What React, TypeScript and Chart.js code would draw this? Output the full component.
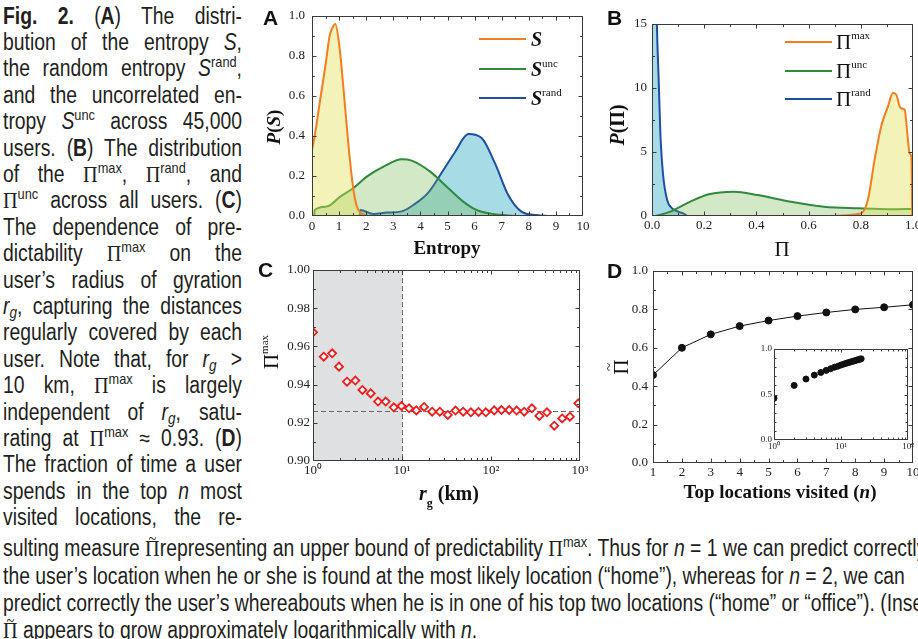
import React, { useEffect, useRef } from "react";
import { Chart, registerables } from "chart.js";

Chart.register(...registerables);

/* ======================= DATA ======================= */
// Panel A: P(S)
const aS_x = [0, 0.1, 0.3, 0.5, 0.65, 0.75, 0.86, 1.0, 1.1, 1.25, 1.4, 1.53, 1.65, 1.8, 2.0, 2.2, 3.0];
const aS_y = [0.33, 0.4, 0.58, 0.756, 0.9, 0.94, 0.96, 0.86, 0.73, 0.5, 0.28, 0.13, 0.05, 0.015, 0.003, 0, 0];
const aUnc_x = [0.08, 0.1, 0.55, 1.04, 1.53, 2.02, 2.64, 3.31, 3.68, 4.36, 5.03, 5.58, 6.07, 6.69, 7.5];
const aUnc_y = [0, 0.03, 0.047, 0.097, 0.14, 0.197, 0.247, 0.284, 0.277, 0.222, 0.139, 0.072, 0.03, 0.01, 0];
const aRand_x = [1.76, 1.78, 2.27, 2.76, 3.31, 3.74, 4.29, 4.85, 5.28, 5.77, 6.26, 6.75, 7.24, 7.73, 8.28, 8.77];
const aRand_y = [0, 0.03, 0.01, 0.017, 0.023, 0.055, 0.117, 0.23, 0.32, 0.41, 0.39, 0.264, 0.105, 0.022, 0.005, 0];
const aSymbols = ["S", "S", "S"];
const aSups = ["", "unc", "rand"];
const aXTicks = [0, 1, 2, 3, 4, 5, 6, 7, 8, 9, 10];
const aYTicks = [0, 0.2, 0.4, 0.6, 0.8, 1.0];

// Panel B: P(Π)
const bMax_x = [0.66, 0.8, 0.827, 0.853, 0.878, 0.904, 0.923, 0.936, 0.949, 0.955, 0.968, 0.978, 0.987, 0.994, 0.997];
const bMax_y = [0, 0.2, 1.25, 4.4, 7.0, 8.56, 9.6, 9.47, 8.56, 8.4, 8.3, 6.5, 4.9, 4.6, 0];
const bUnc_x = [0.013, 0.07, 0.147, 0.218, 0.314, 0.404, 0.532, 0.66, 0.79, 0.917, 0.994];
const bUnc_y = [0, 0.34, 1.12, 1.7, 1.9, 1.64, 1.12, 0.73, 0.6, 0.52, 0.55];
const bRand_x = [0, 0.018, 0.019, 0.026, 0.032, 0.042, 0.058, 0.077, 0.1, 0.12, 0.135];
const bRand_y = [16, 16, 14.8, 10.4, 6.5, 3.3, 1.25, 0.6, 0.34, 0.2, 0];
const bSups = ["max", "unc", "rand"];
const bXTicks = [0, 0.2, 0.4, 0.6, 0.8, 1.0];
const bYTicks = [0, 5, 10, 15];

// Panel C: Π^max vs r_g
const cRg = [1, 1.32, 1.64, 1.96, 2.41, 2.99, 3.59, 4.45, 5.38, 6.56, 8.08, 9.86, 12.0, 14.5, 17.7, 21.8, 26.6, 32.7, 39.9, 48.7, 59.4, 72.4, 87.5, 108.7, 131, 160, 194, 236, 288, 349, 425, 514, 631, 771, 957];
const cPi = [0.9674, 0.9546, 0.9564, 0.9494, 0.9415, 0.9421, 0.9372, 0.9354, 0.9311, 0.9311, 0.9281, 0.9288, 0.9276, 0.9265, 0.9283, 0.9258, 0.9258, 0.9241, 0.9264, 0.9258, 0.9255, 0.9257, 0.9255, 0.9265, 0.9267, 0.9267, 0.9264, 0.9258, 0.9276, 0.9236, 0.9255, 0.9185, 0.9223, 0.9232, 0.9302];
const cSaturation = 0.926;
const cShadeMax = 10;
const cXTicks = [1, 10, 100, 1000];
const cYTicks = [0.9, 0.92, 0.94, 0.96, 0.98, 1.0];

// Panel D: Π~ vs n
const dN = [1, 2, 3, 4, 5, 6, 7, 8, 9, 10];
const dPi = [0.458, 0.6, 0.67, 0.713, 0.742, 0.765, 0.784, 0.8, 0.811, 0.824];
const insetN = [1, 2, 3, 4, 5, 6, 7, 8, 9, 10, 11, 12, 13, 14, 15, 16, 17, 18, 19, 20];
const insetPi = [0.458, 0.6, 0.67, 0.713, 0.742, 0.765, 0.784, 0.8, 0.811, 0.824, 0.834, 0.843, 0.851, 0.858, 0.865, 0.871, 0.877, 0.882, 0.887, 0.892];
const dXTicks = [1, 2, 3, 4, 5, 6, 7, 8, 9, 10];
const dYTicks = [0, 0.2, 0.4, 0.6, 0.8, 1.0];
const insetXTicks = [1, 10, 100];
const insetYTicks = [0, 0.5, 1.0];

/* ======================= STYLE / LAYOUT ======================= */
const SERIF_FAM = '"Liberation Serif", "Times New Roman", serif';
const serif = (size: number, style = "") => `${style} ${size}px ${SERIF_FAM}`.trim();
const LETTER_FONT = 'bold 21px "Liberation Sans", Arial, sans-serif';
const SUPD: any = { 0: "\u2070", 1: "\u00B9", 2: "\u00B2", 3: "\u00B3" };
const pow10Label = (v: number) => "10" + SUPD[Math.round(Math.log10(v))];

const ORANGE = "#f47d20";
const GREEN = "#2f8a3c";
const BLUE = "#1e4ea5";
const FILL_Y = "rgba(225,225,80,0.4)";
const FILL_G = "rgba(110,180,70,0.3)";
const FILL_B = "rgba(80,185,205,0.5)";

type Box = { cl: number; ct: number; cw: number; ch: number; pl: number; pt: number; pr: number; pb: number };
const A_BOX: Box = { cl: 250, ct: 0, cw: 340, ch: 262, pl: 312, pt: 16, pr: 583, pb: 216 };
const B_BOX: Box = { cl: 590, ct: 0, cw: 328, ch: 262, pl: 652, pt: 24, pr: 913, pb: 216 };
const C_BOX: Box = { cl: 250, ct: 258, cw: 340, ch: 262, pl: 313, pt: 270, pr: 580, pb: 461 };
const D_BOX: Box = { cl: 590, ct: 258, cw: 328, ch: 262, pl: 653, pt: 271, pr: 913, pb: 463 };
const I_BOX: Box = { cl: 748, ct: 340, cw: 170, ch: 118, pl: 774, pt: 349, pr: 908, pb: 440 };

/* ======================= HELPERS ======================= */
const pts = (xs: number[], ys: number[]) => xs.map((x, i) => ({ x, y: ys[i] }));
const range = (a: number, b: number, s: number) => {
  const out: number[] = [];
  for (let v = a; v <= b + 1e-9; v += s) out.push(+v.toFixed(6));
  return out;
};
const logMinor = (a: number, b: number) => {
  const out: number[] = [];
  for (let d = a; d < b; d *= 10) for (let k = 2; k <= 9; k++) out.push(k * d);
  return out;
};

type Run = { t: string; f: string; dy?: number };
function drawRuns(ctx: any, runs: Run[], x: number, y: number, align = "center") {
  let w = 0;
  for (const r of runs) {
    ctx.font = r.f;
    w += ctx.measureText(r.t).width;
  }
  let cx = align === "center" ? x - w / 2 : x;
  ctx.textAlign = "left";
  ctx.textBaseline = "alphabetic";
  for (const r of runs) {
    ctx.font = r.f;
    ctx.fillText(r.t, cx, y + (r.dy || 0));
    cx += ctx.measureText(r.t).width;
  }
}
function drawRotRuns(ctx: any, runs: Run[], cx: number, cy: number, size: number) {
  ctx.save();
  ctx.translate(cx, cy);
  ctx.rotate(-Math.PI / 2);
  drawRuns(ctx, runs, 0, size * 0.35);
  ctx.restore();
}

function axis(type: string, min: number, max: number, values: number[], fmt: (v: number) => string, fontSize: number, pad: number, size: number, isX: boolean) {
  return {
    type,
    min,
    max,
    grid: { display: false, drawTicks: false },
    border: { display: false },
    ticks: {
      autoSkip: false,
      maxRotation: 0,
      minRotation: 0,
      padding: pad,
      color: "#222",
      font: { family: SERIF_FAM, size: fontSize },
      callback: (v: any) => fmt(Number(v)),
    },
    afterBuildTicks: (s: any) => {
      s.ticks = values.map((v) => ({ value: v }));
    },
    afterFit: (s: any) => {
      if (isX) s.height = size;
      else s.width = size;
      s.paddingLeft = 0;
      s.paddingRight = 0;
      s.paddingTop = 0;
      s.paddingBottom = 0;
    },
  };
}

function framePlugin(xMaj: number[], xMin: number[], yMaj: number[], yMin: number[], majLen = 4, minLen = 2.5) {
  return {
    id: "frame",
    afterDatasetsDraw(chart: any) {
      const { ctx, chartArea: a, scales } = chart;
      const L = Math.round(a.left) + 0.5;
      const R = Math.round(a.right) - 0.5;
      const T = Math.round(a.top) + 0.5;
      const B = Math.round(a.bottom) - 0.5;
      ctx.save();
      ctx.strokeStyle = "#3a3a3a";
      ctx.lineWidth = 1;
      ctx.beginPath();
      const xt = (vals: number[], len: number) =>
        vals.forEach((v) => {
          const px = Math.round(scales.x.getPixelForValue(v)) + 0.5;
          if (px < L - 0.1 || px > R + 0.1) return;
          ctx.moveTo(px, B);
          ctx.lineTo(px, B - len);
          ctx.moveTo(px, T);
          ctx.lineTo(px, T + len);
        });
      const yt = (vals: number[], len: number) =>
        vals.forEach((v) => {
          const py = Math.round(scales.y.getPixelForValue(v)) + 0.5;
          if (py < T - 0.1 || py > B + 0.1) return;
          ctx.moveTo(L, py);
          ctx.lineTo(L + len, py);
          ctx.moveTo(R, py);
          ctx.lineTo(R - len, py);
        });
      xt(xMaj, majLen);
      xt(xMin, minLen);
      yt(yMaj, majLen);
      yt(yMin, minLen);
      ctx.stroke();
      ctx.strokeRect(L, T, R - L, B - T);
      ctx.restore();
    },
  };
}

function buildConfig(box: Box, xs: any, ys: any, datasets: any[], plugins: any[]) {
  return {
    type: "line",
    data: { datasets },
    options: {
      animation: false,
      responsive: false,
      maintainAspectRatio: false,
      events: [],
      layout: { padding: { left: 0, top: box.pt - box.ct, right: box.cl + box.cw - box.pr, bottom: 0 } },
      plugins: { legend: { display: false }, tooltip: { enabled: false } },
      scales: { x: xs, y: ys },
    },
    plugins,
  };
}

const area = (data: any[], color: string, fillColor: string) => ({
  data,
  borderColor: color,
  backgroundColor: fillColor,
  fill: "origin",
  borderWidth: 2,
  pointRadius: 0,
  cubicInterpolationMode: "monotone",
});

/* ======================= CHART CONFIGS ======================= */
function configA() {
  const b = A_BOX;
  const colors = [ORANGE, GREEN, BLUE];
  const decor = {
    id: "decorA",
    afterDraw(chart: any) {
      const ctx = chart.ctx;
      const ox = b.cl, oy = b.ct;
      ctx.save();
      ctx.fillStyle = "#111";
      drawRuns(ctx, [{ t: "A", f: LETTER_FONT }], 263 - ox, 25 - oy, "left");
      drawRuns(ctx, [{ t: "Entropy", f: serif(19, "bold") }], 447 - ox, 254 - oy);
      drawRotRuns(ctx, [
        { t: "P", f: serif(19, "bold italic") },
        { t: "(", f: serif(19, "bold") },
        { t: "S", f: serif(19, "bold italic") },
        { t: ")", f: serif(19, "bold") },
      ], 273 - ox, 127 - oy, 19);
      const ly = [39, 69, 98];
      aSymbols.forEach((s, i) => {
        ctx.strokeStyle = colors[i];
        ctx.lineWidth = 2;
        ctx.beginPath();
        ctx.moveTo(479 - ox, ly[i] - oy);
        ctx.lineTo(526 - ox, ly[i] - oy);
        ctx.stroke();
        drawRuns(ctx, [
          { t: s, f: serif(20, "bold italic") },
          { t: aSups[i], f: serif(11), dy: -9 },
        ], 531 - ox, ly[i] + 7 - oy, "left");
      });
      ctx.restore();
    },
  };
  return buildConfig(
    b,
    axis("linear", 0, 10, aXTicks, (v) => String(v), 13, 3, b.ct + b.ch - b.pb, true),
    axis("linear", 0, 1, aYTicks, (v) => v.toFixed(1), 13, 7, b.pl - b.cl, false),
    [
      area(pts(aS_x, aS_y), ORANGE, FILL_Y),
      area(pts(aUnc_x, aUnc_y), GREEN, FILL_G),
      area(pts(aRand_x, aRand_y), BLUE, FILL_B),
    ],
    [framePlugin(aXTicks, range(0.5, 9.5, 1), aYTicks, range(0.1, 0.9, 0.2)), decor]
  );
}

function configB() {
  const b = B_BOX;
  const colors = [ORANGE, GREEN, BLUE];
  const decor = {
    id: "decorB",
    afterDraw(chart: any) {
      const ctx = chart.ctx;
      const ox = b.cl, oy = b.ct;
      ctx.save();
      ctx.fillStyle = "#111";
      drawRuns(ctx, [{ t: "B", f: LETTER_FONT }], 607 - ox, 25 - oy, "left");
      drawRuns(ctx, [{ t: "\u03A0", f: serif(21) }], 782 - ox, 256 - oy);
      drawRotRuns(ctx, [
        { t: "P", f: serif(20, "bold italic") },
        { t: "(\u03A0)", f: serif(20, "bold") },
      ], 617 - ox, 125 - oy, 20);
      const ly = [42, 71, 99];
      bSups.forEach((s, i) => {
        ctx.strokeStyle = colors[i];
        ctx.lineWidth = 2;
        ctx.beginPath();
        ctx.moveTo(785 - ox, ly[i] - oy);
        ctx.lineTo(832 - ox, ly[i] - oy);
        ctx.stroke();
        drawRuns(ctx, [
          { t: "\u03A0", f: serif(21) },
          { t: s, f: serif(11), dy: -10 },
        ], 836 - ox, ly[i] + 7 - oy, "left");
      });
      ctx.restore();
    },
  };
  return buildConfig(
    b,
    axis("linear", 0, 1, bXTicks, (v) => v.toFixed(1), 13, 2, b.ct + b.ch - b.pb, true),
    axis("linear", 0, 15, bYTicks, (v) => String(v), 13, 5, b.pl - b.cl, false),
    [
      area(pts(bMax_x, bMax_y), ORANGE, FILL_Y),
      area(pts(bUnc_x, bUnc_y), GREEN, FILL_G),
      area(pts(bRand_x, bRand_y), BLUE, FILL_B),
    ],
    [framePlugin(bXTicks, range(0.1, 0.9, 0.2), bYTicks, range(2.5, 12.5, 5)), decor]
  );
}

function configC() {
  const b = C_BOX;
  const shade = {
    id: "shadeC",
    beforeDatasetsDraw(chart: any) {
      const { ctx, chartArea: a, scales } = chart;
      const x1 = scales.x.getPixelForValue(1);
      const x2 = scales.x.getPixelForValue(cShadeMax);
      const yS = Math.round(scales.y.getPixelForValue(cSaturation)) + 0.5;
      ctx.save();
      ctx.fillStyle = "#dfe0e2";
      ctx.fillRect(x1, a.top, x2 - x1, a.bottom - a.top);
      ctx.strokeStyle = "#6a6a6a";
      ctx.lineWidth = 1;
      ctx.setLineDash([5, 3]);
      ctx.beginPath();
      ctx.moveTo(Math.round(x2) + 0.5, a.top);
      ctx.lineTo(Math.round(x2) + 0.5, a.bottom);
      ctx.moveTo(a.left, yS);
      ctx.lineTo(a.right, yS);
      ctx.stroke();
      ctx.restore();
    },
  };
  const decor = {
    id: "decorC",
    afterDraw(chart: any) {
      const ctx = chart.ctx;
      const ox = b.cl, oy = b.ct;
      ctx.save();
      ctx.fillStyle = "#111";
      drawRuns(ctx, [{ t: "C", f: LETTER_FONT }], 258 - ox, 277 - oy, "left");
      drawRuns(ctx, [
        { t: "r", f: serif(20, "bold italic") },
        { t: "g", f: serif(12, "bold"), dy: 7 },
        { t: " (km)", f: serif(20, "bold") },
      ], 449 - ox, 500 - oy);
      drawRotRuns(ctx, [
        { t: "\u03A0", f: serif(21) },
        { t: "max", f: serif(11), dy: -10 },
      ], 271 - ox, 352 - oy, 21);
      ctx.restore();
    },
  };
  return buildConfig(
    b,
    axis("logarithmic", 1, 1000, cXTicks, pow10Label, 13, 2, b.ct + b.ch - b.pb, true),
    axis("linear", 0.9, 1.0, cYTicks, (v) => v.toFixed(2), 13, 3, b.pl - b.cl, false),
    [
      {
        data: pts(cRg, cPi),
        showLine: false,
        pointStyle: "rectRot",
        pointRadius: 4,
        pointBorderWidth: 1.8,
        pointBorderColor: "#ee1c1c",
        pointBackgroundColor: "#ffffff",
        borderColor: "#ee1c1c",
        backgroundColor: "#ffffff",
      },
    ],
    [shade, framePlugin(cXTicks, logMinor(1, 1000), cYTicks, range(0.91, 0.99, 0.02)), decor]
  );
}

function configD() {
  const b = D_BOX;
  const decor = {
    id: "decorD",
    afterDraw(chart: any) {
      const ctx = chart.ctx;
      const ox = b.cl, oy = b.ct;
      ctx.save();
      ctx.fillStyle = "#111";
      drawRuns(ctx, [{ t: "D", f: LETTER_FONT }], 607 - ox, 278 - oy, "left");
      drawRuns(ctx, [
        { t: "Top locations visited (", f: serif(19, "bold") },
        { t: "n", f: serif(19, "bold italic") },
        { t: ")", f: serif(19, "bold") },
      ], 780 - ox, 498 - oy);
      // Π with tilde above (rotated)
      ctx.save();
      ctx.translate(621 - ox, 367 - oy);
      ctx.rotate(-Math.PI / 2);
      drawRuns(ctx, [{ t: "\u03A0", f: serif(21) }], 0, 7.4);
      ctx.font = serif(15);
      ctx.textAlign = "center";
      ctx.textBaseline = "middle";
      ctx.fillText("~", 0, -10.5);
      ctx.restore();
      ctx.restore();
    },
  };
  return buildConfig(
    b,
    axis("linear", 1, 10, dXTicks, (v) => String(v), 13, 2, b.ct + b.ch - b.pb, true),
    axis("linear", 0, 1, dYTicks, (v) => v.toFixed(1), 13, 5, b.pl - b.cl, false),
    [
      {
        data: pts(dN, dPi),
        borderColor: "#111",
        borderWidth: 1,
        pointRadius: 3.5,
        pointBackgroundColor: "#111",
        pointBorderColor: "#111",
        tension: 0,
      },
    ],
    [framePlugin(dXTicks, range(1.5, 9.5, 1), dYTicks, range(0.1, 0.9, 0.2)), decor]
  );
}

function configInset() {
  const b = I_BOX;
  const bg = {
    id: "insetBg",
    beforeDatasetsDraw(chart: any) {
      const { ctx, chartArea: a } = chart;
      ctx.save();
      ctx.fillStyle = "#fff";
      ctx.fillRect(a.left, a.top, a.right - a.left, a.bottom - a.top);
      ctx.restore();
    },
  };
  return buildConfig(
    b,
    axis("logarithmic", 1, 100, insetXTicks, pow10Label, 9, 1, b.ct + b.ch - b.pb, true),
    axis("linear", 0, 1, insetYTicks, (v) => v.toFixed(1), 9, 2, b.pl - b.cl, false),
    [
      {
        data: pts(insetN, insetPi),
        showLine: false,
        pointRadius: 3,
        pointBackgroundColor: "#111",
        pointBorderColor: "#111",
        borderColor: "#111",
      },
    ],
    [bg, framePlugin(insetXTicks, logMinor(1, 100), insetYTicks, range(0.1, 0.9, 0.1).filter((v) => Math.abs(v - 0.5) > 1e-6), 3, 2)]
  );
}

/* ======================= COMPONENTS ======================= */
function ChartCanvas({ box, make }: { box: Box; make: () => any }) {
  const ref = useRef<HTMLCanvasElement>(null);
  useEffect(() => {
    const chart = new Chart(ref.current as HTMLCanvasElement, make() as any);
    return () => chart.destroy();
  }, []);
  return (
    <canvas
      ref={ref}
      width={box.cw}
      height={box.ch}
      style={{ position: "absolute", left: box.cl, top: box.ct, width: box.cw, height: box.ch }}
    />
  );
}

const CAP_FONT = '"Liberation Sans", Arial, sans-serif';
const CAP_SCALE = 0.842;
const piStyle: any = { fontFamily: SERIF_FAM, fontSize: 24 };
const supStyle: any = { fontSize: "0.66em", verticalAlign: "0.58em", lineHeight: 0 };
const subStyle: any = { fontSize: "0.7em", verticalAlign: "-0.25em", lineHeight: 0 };
const P = () => <span style={piStyle}>{"\u03A0"}</span>;
const PT = () => (
  <span style={{ ...piStyle, position: "relative", display: "inline-block", lineHeight: "26px" }}>
    {"\u03A0"}
    <span style={{ position: "absolute", left: 0, right: 0, top: -9, textAlign: "center", fontSize: 17 }}>~</span>
  </span>
);
const Sup = ({ children }: any) => <sup style={supStyle}>{children}</sup>;
const Rg = () => (
  <i>
    r<sub style={subStyle}>g</sub>
  </i>
);

const leftLines: any[] = [
  <><b>Fig. 2.</b> (<b>A</b>) The distri-</>,
  <>bution of the entropy <i>S</i>,</>,
  <>the random entropy <i>S</i><Sup>rand</Sup>,</>,
  <>and the uncorrelated en-</>,
  <>tropy <i>S</i><Sup>unc</Sup> across 45,000</>,
  <>users. (<b>B</b>) The distribution</>,
  <>of the <P /><Sup>max</Sup>, <P /><Sup>rand</Sup>, and</>,
  <><P /><Sup>unc</Sup> across all users. (<b>C</b>)</>,
  <>The dependence of pre-</>,
  <>dictability <P /><Sup>max</Sup> on the</>,
  <>user’s radius of gyration</>,
  <><Rg />, capturing the distances</>,
  <>regularly covered by each</>,
  <>user. Note that, for <Rg /> &gt;</>,
  <>10 km, <P /><Sup>max</Sup> is largely</>,
  <>independent of <Rg />, satu-</>,
  <>rating at <P /><Sup>max</Sup> ≈ 0.93. (<b>D</b>)</>,
  <>The fraction of time a user</>,
  <>spends in the top <i>n</i> most</>,
  <>visited locations, the re-</>,
];

const bottomLines: any[] = [
  <>sulting measure <PT />representing an upper bound of predictability <P /><Sup>max</Sup>. Thus for <i>n</i> = 1 we can predict correctly</>,
  <>the user’s location when he or she is found at the most likely location (“home”), whereas for <i>n</i> = 2, we can</>,
  <>predict correctly the user’s whereabouts when he is in one of his top two locations (“home” or “office”). (Inset)</>,
  <><PT /> appears to grow approximately logarithmically with <i>n</i>.</>,
];
const bottomCenters = [548, 575.5, 603, 630];

export default function App() {
  return (
    <div
      style={{
        position: "absolute",
        left: 0,
        top: 0,
        width: 918,
        height: 639,
        overflow: "hidden",
        background: "#fff",
        fontFamily: CAP_FONT,
        fontSize: 23,
        color: "#231f20",
      }}
    >
      {leftLines.map((l, i) => (
        <div
          key={"l" + i}
          style={{
            position: "absolute",
            left: 3,
            top: 15.5 + 26.4 * i - 13,
            width: 239 / CAP_SCALE,
            height: 26,
            lineHeight: "26px",
            textAlign: "justify",
            textAlignLast: "justify",
            whiteSpace: "nowrap",
            transform: `scaleX(${CAP_SCALE})`,
            transformOrigin: "0 0",
          }}
        >
          {l}
        </div>
      ))}
      {bottomLines.map((l, i) => (
        <div
          key={"b" + i}
          style={{
            position: "absolute",
            left: 3,
            top: bottomCenters[i] - 13,
            height: 26,
            lineHeight: "26px",
            whiteSpace: "nowrap",
            transform: `scaleX(${CAP_SCALE})`,
            transformOrigin: "0 0",
          }}
        >
          {l}
        </div>
      ))}
      <ChartCanvas box={A_BOX} make={configA} />
      <ChartCanvas box={B_BOX} make={configB} />
      <ChartCanvas box={C_BOX} make={configC} />
      <ChartCanvas box={D_BOX} make={configD} />
      <ChartCanvas box={I_BOX} make={configInset} />
    </div>
  );
}
